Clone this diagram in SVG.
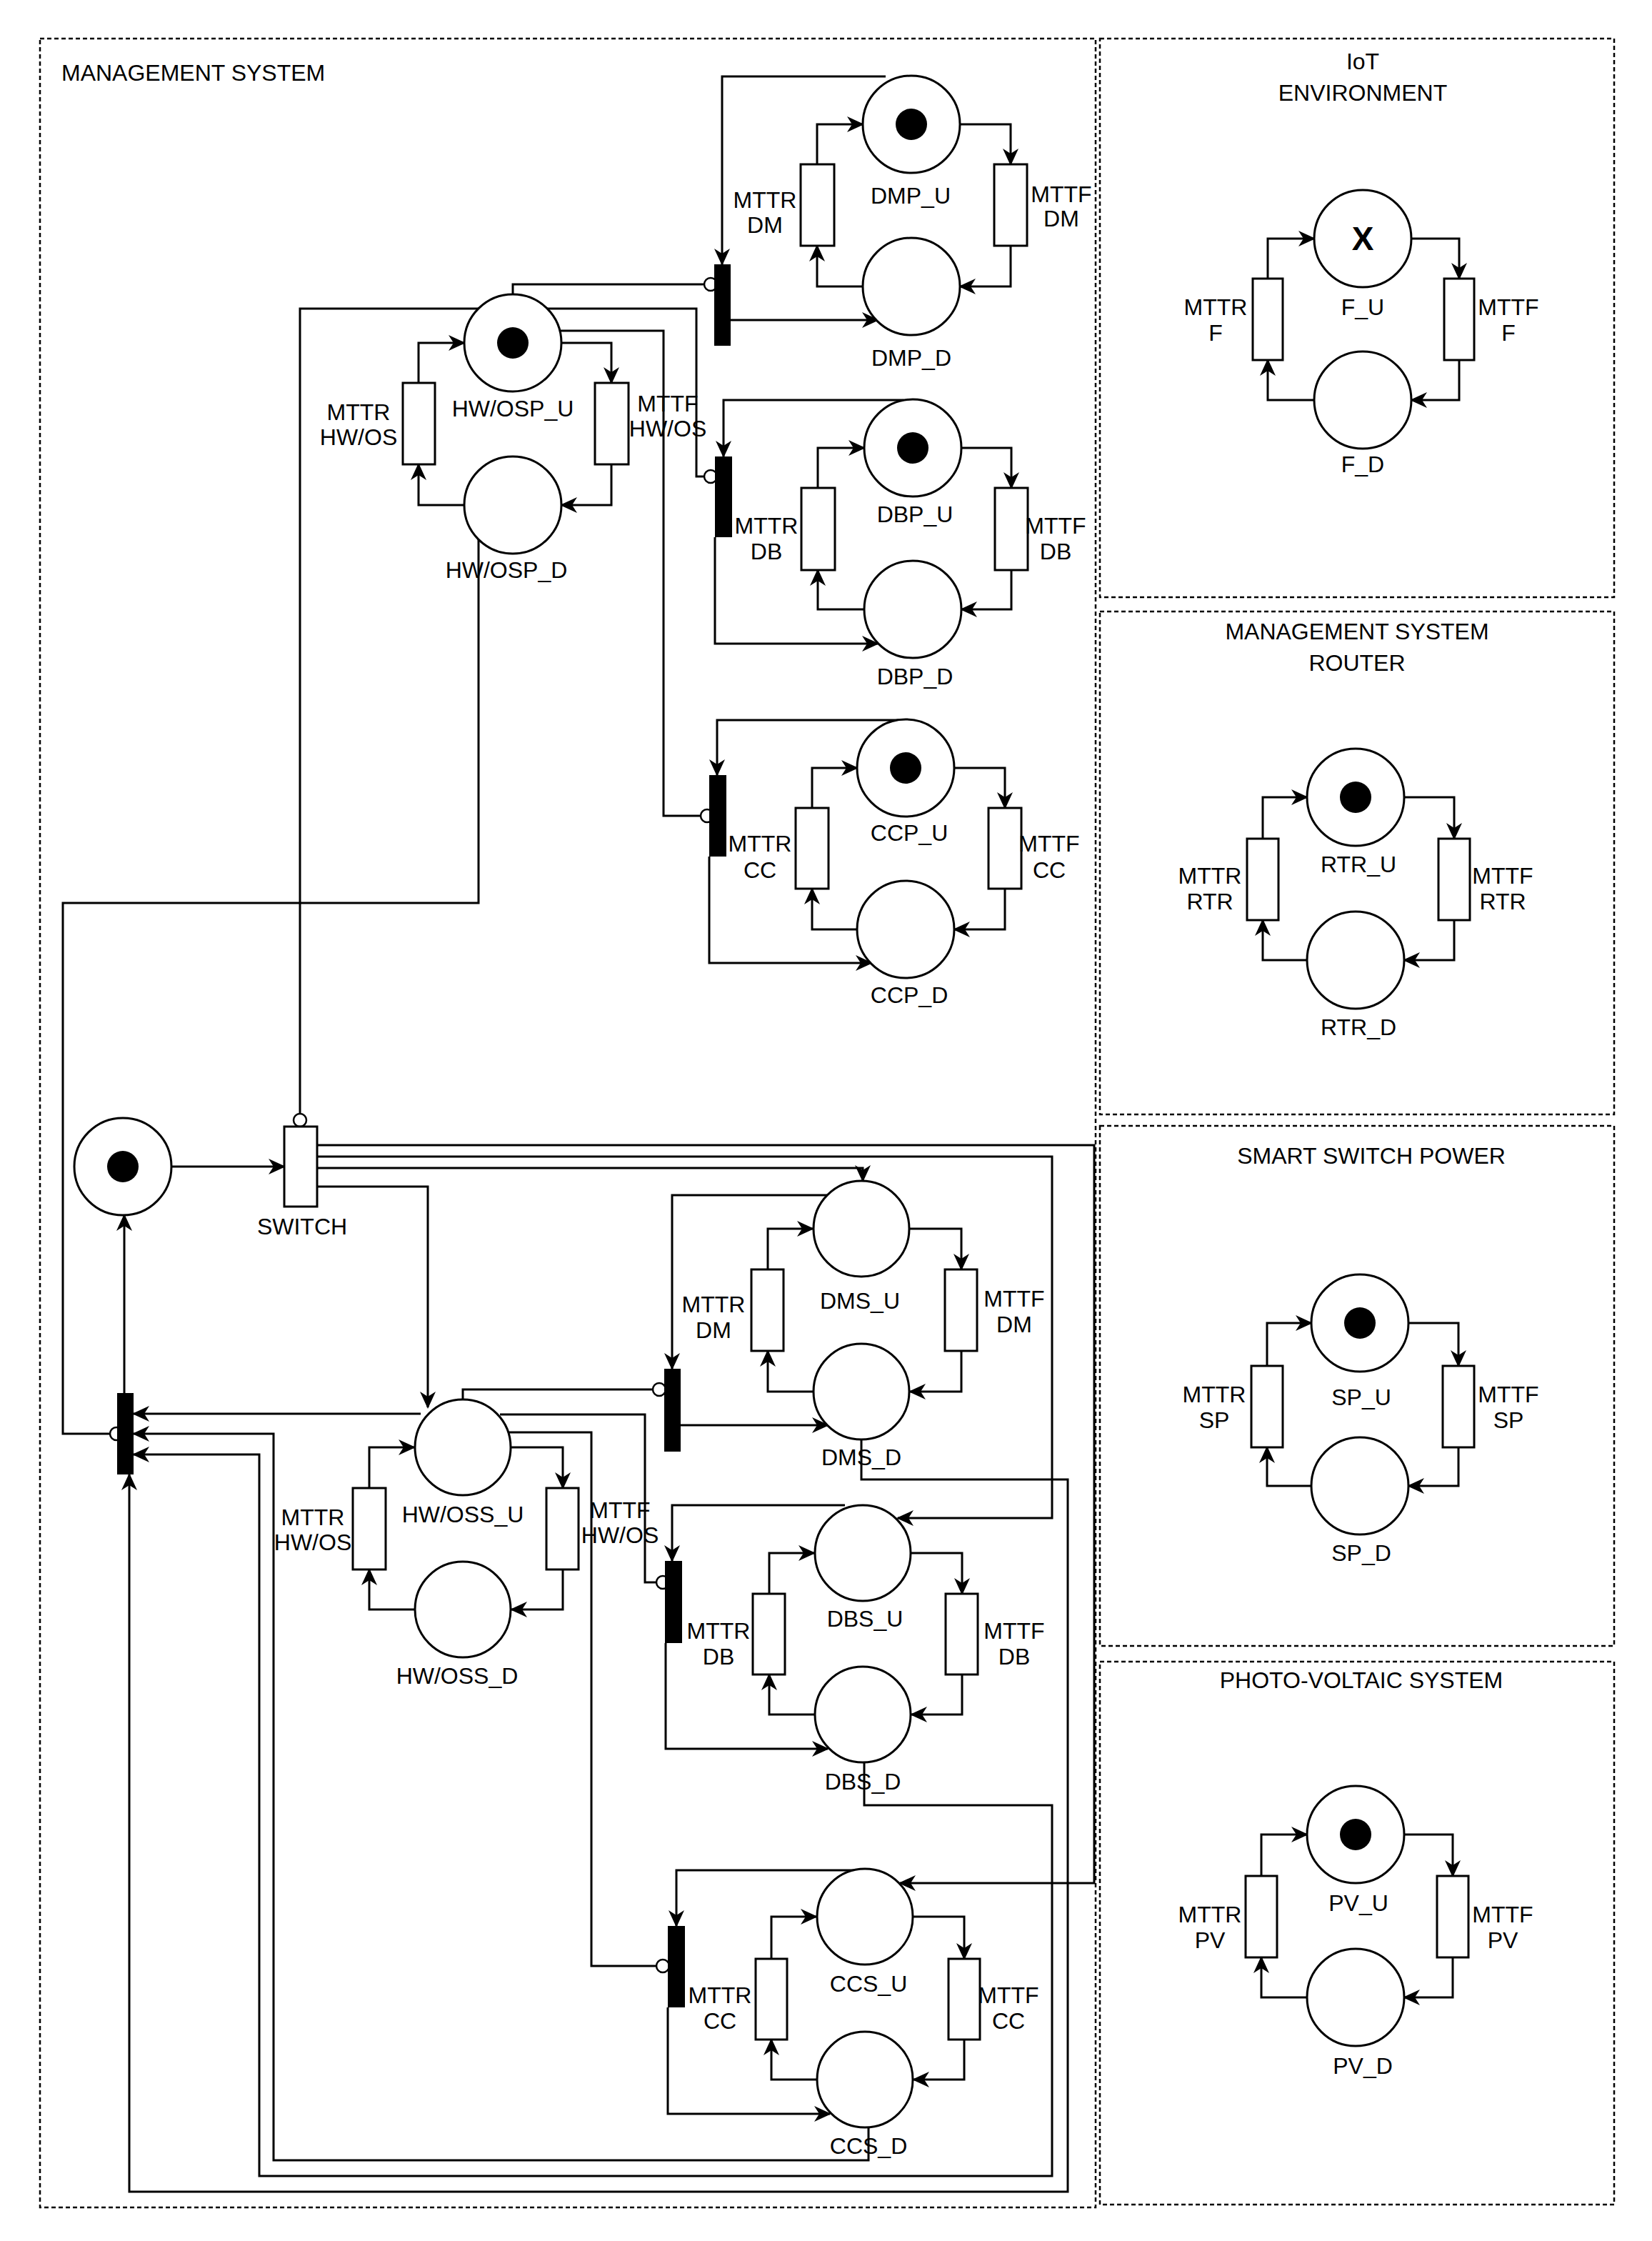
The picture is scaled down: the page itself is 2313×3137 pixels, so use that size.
<svg xmlns="http://www.w3.org/2000/svg" width="2313" height="3137" viewBox="0 0 2313 3137">
<style>
text{font-family:"Liberation Sans",Arial,sans-serif;font-size:32px;fill:#000;text-anchor:middle}
.t{text-anchor:start}
.box{fill:none;stroke:#000;stroke-width:2.5;stroke-dasharray:6,4}
.pl{fill:#fff;stroke:#000;stroke-width:3}
.tr{fill:#fff;stroke:#000;stroke-width:3}
.bar{fill:#000}
.a{fill:none;stroke:#000;stroke-width:3;marker-end:url(#ar)}
.l{fill:none;stroke:#000;stroke-width:3}
.inh{fill:#fff;stroke:#000;stroke-width:2.5}
.tok{fill:#000}
</style>
<defs>
<marker id="ar" markerUnits="userSpaceOnUse" markerWidth="26" markerHeight="22" refX="22" refY="11" orient="auto">
<path d="M0,0 L24,11 L0,22 L7,11 Z" fill="#000"/>
</marker>
</defs>
<rect width="2313" height="3137" fill="#fff"/>
<g id="frames">
<rect class="box" x="56" y="54" width="1478" height="3036"/>
<rect class="box" x="1540" y="54" width="720" height="782"/>
<rect class="box" x="1540" y="856" width="720" height="704"/>
<rect class="box" x="1540" y="1576" width="720" height="728"/>
<rect class="box" x="1540" y="2326" width="720" height="760"/>
<text class="t" x="86" y="113">MANAGEMENT SYSTEM</text>
<text x="1908" y="97">IoT</text><text x="1908" y="141">ENVIRONMENT</text>
<text x="1900" y="895">MANAGEMENT SYSTEM</text><text x="1900" y="939">ROUTER</text>
<text x="1920" y="1629">SMART SWITCH POWER</text>
<text x="1906" y="2363">PHOTO-VOLTAIC SYSTEM</text>
</g>
<g id="connectors">
<!-- loops -->
<path class="a" d="M1144 230V174H1208"/><path class="a" d="M1344 174H1415V230"/><path class="a" d="M1415 344V401H1344"/><path class="a" d="M1208 401H1144V344"/>
<path class="a" d="M586 536V480H650"/><path class="a" d="M786 480H856V536"/><path class="a" d="M856 650V707H786"/><path class="a" d="M650 707H586V650"/>
<path class="a" d="M1145 683V627H1210"/><path class="a" d="M1346 627H1416V683"/><path class="a" d="M1416 798V853H1346"/><path class="a" d="M1210 853H1145V798"/>
<path class="a" d="M1137 1131V1075H1200"/><path class="a" d="M1336 1075H1407V1131"/><path class="a" d="M1407 1244V1301H1336"/><path class="a" d="M1200 1301H1137V1244"/>
<path class="a" d="M1775 390V334H1840"/><path class="a" d="M1976 334H2043V390"/><path class="a" d="M2043 504V560H1976"/><path class="a" d="M1840 560H1775V504"/>
<path class="a" d="M1768 1174V1116H1830"/><path class="a" d="M1966 1116H2036V1174"/><path class="a" d="M2036 1288V1344H1966"/><path class="a" d="M1830 1344H1768V1288"/>
<path class="a" d="M1774 1912V1852H1836"/><path class="a" d="M1972 1852H2042V1912"/><path class="a" d="M2042 2026V2080H1972"/><path class="a" d="M1836 2080H1774V2026"/>
<path class="a" d="M1766 2626V2568H1830"/><path class="a" d="M1966 2568H2034V2626"/><path class="a" d="M2034 2740V2796H1966"/><path class="a" d="M1830 2796H1766V2740"/>
<path class="a" d="M1075 1777V1720H1138"/><path class="a" d="M1274 1720H1346V1777"/><path class="a" d="M1346 1891V1948H1274"/><path class="a" d="M1138 1948H1075V1891"/>
<path class="a" d="M517 2083V2026H580"/><path class="a" d="M716 2026H788V2083"/><path class="a" d="M788 2197V2253H716"/><path class="a" d="M580 2253H517V2197"/>
<path class="a" d="M1077 2231V2174H1140"/><path class="a" d="M1276 2174H1347V2231"/><path class="a" d="M1347 2344V2400H1276"/><path class="a" d="M1140 2400H1077V2344"/>
<path class="a" d="M1080 2742V2683H1143"/><path class="a" d="M1279 2683H1350V2742"/><path class="a" d="M1350 2855V2911H1279"/><path class="a" d="M1143 2911H1080V2855"/>
<!-- upper transitions -->
<path class="a" d="M1240 107H1011V370"/>
<path class="a" d="M1023 448H1229"/>
<path class="l" d="M718 412V398H985"/><circle class="inh" cx="995" cy="398" r="9"/>
<path class="l" d="M420 1559V432H975V667H985"/><circle class="inh" cx="995" cy="667" r="9"/>
<path class="l" d="M780 463H929V1142H980"/><circle class="inh" cx="990" cy="1142" r="9"/>
<path class="a" d="M1265 560H1013V639"/>
<path class="a" d="M1001 752V901H1229"/>
<path class="a" d="M1258 1008H1004V1085"/>
<path class="a" d="M993 1199V1348H1220"/>
<path class="l" d="M670 752V1264H88V2007H153"/><circle class="inh" cx="163" cy="2007" r="9"/>
<!-- switch -->
<circle class="inh" cx="420" cy="1568" r="9"/>
<path class="a" d="M240 1633H398"/>
<path class="a" d="M444 1603H1532V2636H1260"/>
<path class="a" d="M444 1619H1473V2125H1257"/>
<path class="a" d="M444 1635H1208V1653"/>
<path class="a" d="M444 1661H599V1970"/>
<!-- lower transitions -->
<path class="a" d="M1159 1673H941V1916"/>
<path class="a" d="M953 1995H1159"/>
<path class="l" d="M648 1960V1945H913"/><circle class="inh" cx="923" cy="1945" r="9"/>
<path class="a" d="M1183 2107H941V2185"/>
<path class="a" d="M932 2300V2448H1159"/>
<path class="l" d="M700 1980H903V2215H918"/><circle class="inh" cx="928" cy="2215" r="9"/>
<path class="a" d="M1203 2618H947V2696"/>
<path class="a" d="M935 2810V2959H1162"/>
<path class="l" d="M712 2005H828V2752H918"/><circle class="inh" cx="928" cy="2752" r="9"/>
<!-- to main transition -->
<path class="a" d="M589 1979H187"/>
<path class="a" d="M1216 2979V3024H383V2007H187"/>
<path class="a" d="M1210 2466V2527H1473V3046H363V2036H187"/>
<path class="a" d="M1206 2016V2071H1495V3068H181V2064"/>
<path class="a" d="M174 1950V1701"/>
</g>
<g id="places">
<g id="DMP_U"><circle class="pl" cx="1276" cy="174" r="68"/><circle class="tok" cx="1276" cy="174" r="22"/><text x="1275" y="285">DMP_U</text></g>
<g id="DMP_D"><circle class="pl" cx="1276" cy="401" r="68"/><text x="1276" y="512">DMP_D</text></g>
<g id="HWOSP_U"><circle class="pl" cx="718" cy="480" r="68"/><circle class="tok" cx="718" cy="480" r="22"/><text x="718" y="583">HW/OSP_U</text></g>
<g id="HWOSP_D"><circle class="pl" cx="718" cy="707" r="68"/><text x="709" y="809">HW/OSP_D</text></g>
<g id="DBP_U"><circle class="pl" cx="1278" cy="627" r="68"/><circle class="tok" cx="1278" cy="627" r="22"/><text x="1281" y="731">DBP_U</text></g>
<g id="DBP_D"><circle class="pl" cx="1278" cy="853" r="68"/><text x="1281" y="958">DBP_D</text></g>
<g id="CCP_U"><circle class="pl" cx="1268" cy="1075" r="68"/><circle class="tok" cx="1268" cy="1075" r="22"/><text x="1273" y="1177">CCP_U</text></g>
<g id="CCP_D"><circle class="pl" cx="1268" cy="1301" r="68"/><text x="1273" y="1404">CCP_D</text></g>
<g id="F_U"><circle class="pl" cx="1908" cy="334" r="68"/><text x="1908" y="350" style="font-size:46px;font-weight:bold">X</text><text x="1908" y="441">F_U</text></g>
<g id="F_D"><circle class="pl" cx="1908" cy="560" r="68"/><text x="1908" y="661">F_D</text></g>
<g id="RTR_U"><circle class="pl" cx="1898" cy="1116" r="68"/><circle class="tok" cx="1898" cy="1116" r="22"/><text x="1902" y="1221">RTR_U</text></g>
<g id="RTR_D"><circle class="pl" cx="1898" cy="1344" r="68"/><text x="1902" y="1449">RTR_D</text></g>
<g id="SP_U"><circle class="pl" cx="1904" cy="1852" r="68"/><circle class="tok" cx="1904" cy="1852" r="22"/><text x="1906" y="1967">SP_U</text></g>
<g id="SP_D"><circle class="pl" cx="1904" cy="2080" r="68"/><text x="1906" y="2185">SP_D</text></g>
<g id="PV_U"><circle class="pl" cx="1898" cy="2568" r="68"/><circle class="tok" cx="1898" cy="2568" r="22"/><text x="1902" y="2675">PV_U</text></g>
<g id="PV_D"><circle class="pl" cx="1898" cy="2796" r="68"/><text x="1908" y="2903">PV_D</text></g>
<g id="P0"><circle class="pl" cx="172" cy="1633" r="68"/><circle class="tok" cx="172" cy="1633" r="22"/></g>
<g id="DMS_U"><circle class="pl" cx="1206" cy="1720" r="67"/><text x="1204" y="1832">DMS_U</text></g>
<g id="DMS_D"><circle class="pl" cx="1206" cy="1948" r="67"/><text x="1206" y="2051">DMS_D</text></g>
<g id="HWOSS_U"><circle class="pl" cx="648" cy="2026" r="67"/><text x="648" y="2131">HW/OSS_U</text></g>
<g id="HWOSS_D"><circle class="pl" cx="648" cy="2253" r="67"/><text x="640" y="2357">HW/OSS_D</text></g>
<g id="DBS_U"><circle class="pl" cx="1208" cy="2174" r="67"/><text x="1211" y="2277">DBS_U</text></g>
<g id="DBS_D"><circle class="pl" cx="1208" cy="2400" r="67"/><text x="1208" y="2505">DBS_D</text></g>
<g id="CCS_U"><circle class="pl" cx="1211" cy="2683" r="67"/><text x="1216" y="2788">CCS_U</text></g>
<g id="CCS_D"><circle class="pl" cx="1211" cy="2911" r="67"/><text x="1216" y="3015">CCS_D</text></g>
</g>
<g id="transitions">
<g id="MTTR_DMP"><rect class="tr" x="1121" y="230" width="47" height="114"/><text x="1071" y="291">MTTR</text><text x="1071" y="326">DM</text></g>
<g id="MTTF_DMP"><rect class="tr" x="1392" y="230" width="46" height="114"/><text x="1486" y="283">MTTF</text><text x="1486" y="317">DM</text></g>
<g id="MTTR_HWOSP"><rect class="tr" x="564" y="536" width="45" height="114"/><text x="502" y="588">MTTR</text><text x="502" y="623">HW/OS</text></g>
<g id="MTTF_HWOSP"><rect class="tr" x="833" y="536" width="47" height="114"/><text x="935" y="576">MTTF</text><text x="935" y="611">HW/OS</text></g>
<g id="MTTR_DBP"><rect class="tr" x="1122" y="683" width="47" height="115"/><text x="1073" y="747">MTTR</text><text x="1073" y="783">DB</text></g>
<g id="MTTF_DBP"><rect class="tr" x="1393" y="683" width="46" height="115"/><text x="1478" y="747">MTTF</text><text x="1478" y="783">DB</text></g>
<g id="MTTR_CCP"><rect class="tr" x="1114" y="1131" width="46" height="113"/><text x="1064" y="1192">MTTR</text><text x="1064" y="1229">CC</text></g>
<g id="MTTF_CCP"><rect class="tr" x="1384" y="1131" width="46" height="113"/><text x="1469" y="1192">MTTF</text><text x="1469" y="1229">CC</text></g>
<g id="T_DM"><rect class="bar" x="1000" y="370" width="23" height="114"/></g>
<g id="T_DB"><rect class="bar" x="1001" y="639" width="24" height="113"/></g>
<g id="T_CC"><rect class="bar" x="993" y="1085" width="24" height="114"/></g>
<g id="MTTR_F"><rect class="tr" x="1754" y="390" width="42" height="114"/><text x="1702" y="441">MTTR</text><text x="1702" y="477">F</text></g>
<g id="MTTF_F"><rect class="tr" x="2022" y="390" width="42" height="114"/><text x="2112" y="441">MTTF</text><text x="2112" y="477">F</text></g>
<g id="MTTR_RTR"><rect class="tr" x="1746" y="1174" width="44" height="114"/><text x="1694" y="1237">MTTR</text><text x="1694" y="1273">RTR</text></g>
<g id="MTTF_RTR"><rect class="tr" x="2014" y="1174" width="44" height="114"/><text x="2104" y="1237">MTTF</text><text x="2104" y="1273">RTR</text></g>
<g id="MTTR_SP"><rect class="tr" x="1752" y="1912" width="44" height="114"/><text x="1700" y="1963">MTTR</text><text x="1700" y="1999">SP</text></g>
<g id="MTTF_SP"><rect class="tr" x="2020" y="1912" width="44" height="114"/><text x="2112" y="1963">MTTF</text><text x="2112" y="1999">SP</text></g>
<g id="MTTR_PV"><rect class="tr" x="1744" y="2626" width="44" height="114"/><text x="1694" y="2691">MTTR</text><text x="1694" y="2727">PV</text></g>
<g id="MTTF_PV"><rect class="tr" x="2012" y="2626" width="44" height="114"/><text x="2104" y="2691">MTTF</text><text x="2104" y="2727">PV</text></g>
<g id="SWITCH"><rect class="tr" x="398" y="1577" width="46" height="112"/><text x="423" y="1728">SWITCH</text></g>
<g id="T_MAIN"><rect class="bar" x="164" y="1950" width="23" height="114"/></g>
<g id="MTTR_DMS"><rect class="tr" x="1052" y="1777" width="45" height="114"/><text x="999" y="1837">MTTR</text><text x="999" y="1873">DM</text></g>
<g id="MTTF_DMS"><rect class="tr" x="1323" y="1777" width="45" height="114"/><text x="1420" y="1829">MTTF</text><text x="1420" y="1865">DM</text></g>
<g id="MTTR_HWOSS"><rect class="tr" x="494" y="2083" width="46" height="114"/><text x="438" y="2135">MTTR</text><text x="438" y="2170">HW/OS</text></g>
<g id="MTTF_HWOSS"><rect class="tr" x="765" y="2083" width="45" height="114"/><text x="868" y="2125">MTTF</text><text x="868" y="2160">HW/OS</text></g>
<g id="MTTR_DBS"><rect class="tr" x="1054" y="2231" width="45" height="113"/><text x="1006" y="2294">MTTR</text><text x="1006" y="2330">DB</text></g>
<g id="MTTF_DBS"><rect class="tr" x="1324" y="2231" width="45" height="113"/><text x="1420" y="2294">MTTF</text><text x="1420" y="2330">DB</text></g>
<g id="MTTR_CCS"><rect class="tr" x="1058" y="2742" width="44" height="113"/><text x="1008" y="2804">MTTR</text><text x="1008" y="2840">CC</text></g>
<g id="MTTF_CCS"><rect class="tr" x="1328" y="2742" width="44" height="113"/><text x="1412" y="2804">MTTF</text><text x="1412" y="2840">CC</text></g>
<g id="T_DMS"><rect class="bar" x="930" y="1916" width="23" height="116"/></g>
<g id="T_DBS"><rect class="bar" x="931" y="2185" width="24" height="115"/></g>
<g id="T_CCS"><rect class="bar" x="935" y="2696" width="24" height="114"/></g>
</g>
</svg>
